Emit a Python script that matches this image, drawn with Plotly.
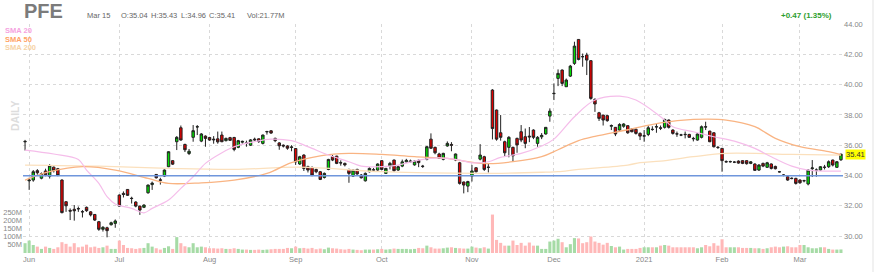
import pandas as pd
import plotly.graph_objects as go

# ---------------- data ----------------
holidays = ["2020-07-03", "2020-09-07", "2020-11-26", "2020-12-25",
            "2021-01-01", "2021-01-18", "2021-02-15"]
dates = [d.strftime("%Y-%m-%d") for d in pd.bdate_range("2020-05-29", "2021-03-15")
         if d.strftime("%Y-%m-%d") not in holidays]

opens = [36.22, 33.65, 33.70, 34.32, 33.82, 34.30, 33.95, 34.55, 34.45, 33.70,
         32.27, 31.70, 31.77, 31.82, 31.62, 31.90, 31.60, 31.43, 30.95, 30.45,
         30.55, 30.75, 30.84, 32.71, 32.82, 33.08, 32.50, 32.25, 31.98, 31.90,
         32.86, 33.40, 34.07, 33.72, 33.96, 34.58, 34.98, 36.23, 37.15, 36.05,
         35.45, 36.52, 37.20, 36.27, 36.60, 36.51, 36.40, 36.42, 36.67, 36.30,
         36.50, 36.51, 35.86, 36.20, 36.15, 36.00, 36.40, 36.42, 36.12, 36.88,
         36.95, 36.45, 36.15, 36.00, 35.95, 35.85, 35.78, 34.76, 35.35, 34.58,
         34.53, 34.40, 34.25, 33.87, 34.40, 35.24, 35.28, 34.85, 34.80, 34.40,
         33.96, 34.40, 34.03, 33.65, 34.25, 34.38, 34.36, 34.98, 34.14, 34.62,
         35.02, 34.36, 34.62, 34.90, 34.90, 34.70, 35.00, 34.62, 35.07, 36.40,
         35.86, 35.42, 35.07, 35.95, 36.05, 35.02, 34.84, 33.57, 33.30, 33.96,
         34.51, 35.08, 35.24, 34.53, 39.64, 38.32, 36.82, 36.23, 35.86, 35.86,
         36.45, 36.89, 36.56, 36.60, 37.00, 36.12, 36.55, 36.74, 37.92, 39.40,
         40.41, 40.96, 39.86, 40.56, 41.40, 42.98, 41.85, 41.95, 41.58, 39.02,
         38.14, 37.99, 37.95, 37.25, 37.18, 37.00, 37.25, 37.29, 37.07, 37.05,
         36.78, 36.60, 36.71, 37.05, 37.20, 37.15, 37.18, 37.66, 37.00, 36.75,
         36.68, 36.72, 36.71, 36.45, 36.34, 36.52, 37.22, 36.93, 36.82, 35.86,
         35.79, 34.92, 34.90, 34.88, 34.95, 34.98, 34.98, 34.80, 34.76, 34.36,
         34.80, 34.54, 34.76, 34.60, 34.25, 34.02, 33.92, 33.82, 33.81, 33.70,
         33.65, 33.44, 34.45, 34.35, 34.36, 34.55, 34.58, 35.02, 34.54, 35.04]

highs = [36.35, 33.85, 34.36, 34.42, 34.20, 34.45, 34.75, 34.60, 34.50, 33.75,
         32.30, 31.83, 32.05, 31.95, 31.72, 31.95, 31.65, 31.45, 31.00, 30.66,
         30.62, 30.95, 31.10, 32.75, 32.95, 33.10, 32.60, 32.30, 32.00, 32.10,
         33.40, 33.60, 34.10, 33.85, 34.40, 35.60, 35.00, 36.60, 37.30, 36.10,
         35.75, 37.33, 37.33, 36.80, 36.65, 36.55, 36.60, 36.90, 36.90, 36.50,
         36.55, 36.55, 36.35, 36.30, 36.30, 36.40, 36.50, 36.45, 36.70, 36.95,
         37.00, 36.50, 36.20, 36.05, 36.00, 36.00, 35.80, 35.30, 35.40, 34.65,
         34.60, 34.45, 34.30, 34.20, 35.10, 35.35, 35.30, 35.00, 34.85, 34.45,
         34.40, 34.45, 34.10, 34.20, 34.55, 34.50, 34.80, 35.00, 34.50, 34.90,
         35.05, 34.65, 35.05, 35.10, 35.05, 35.00, 35.05, 34.70, 35.95, 36.78,
         35.90, 35.50, 35.50, 36.25, 36.20, 35.45, 34.90, 33.60, 33.65, 34.70,
         34.55, 36.07, 35.30, 34.80, 39.70, 38.35, 37.99, 36.30, 36.60, 35.90,
         36.50, 37.33, 37.10, 37.20, 37.05, 36.60, 36.80, 37.20, 38.43, 40.08,
         41.00, 41.00, 40.40, 41.30, 42.83, 43.00, 42.05, 42.10, 41.60, 39.10,
         38.20, 38.00, 38.00, 37.37, 37.20, 37.45, 37.45, 37.30, 37.10, 37.10,
         36.85, 37.00, 37.30, 37.25, 37.40, 37.30, 37.75, 37.70, 37.05, 36.90,
         36.75, 36.90, 36.75, 36.55, 36.80, 37.30, 37.55, 36.95, 36.85, 35.95,
         35.82, 35.00, 34.98, 34.95, 35.00, 35.00, 35.00, 34.95, 34.80, 34.75,
         34.85, 34.90, 34.80, 34.65, 34.30, 34.08, 33.95, 33.88, 33.85, 33.75,
         33.72, 34.40, 35.02, 34.47, 34.62, 34.70, 35.00, 35.05, 34.95, 35.43]

lows = [35.65, 33.05, 33.59, 34.05, 33.75, 33.95, 33.80, 34.20, 33.95, 31.50,
        31.60, 31.06, 31.02, 31.60, 31.23, 31.60, 31.30, 31.00, 30.35, 30.30,
        29.92, 30.70, 30.55, 31.95, 32.55, 32.65, 32.15, 31.90, 31.40, 31.85,
        32.80, 33.05, 33.80, 33.40, 33.90, 34.55, 34.70, 35.68, 36.30, 35.55,
        35.35, 36.23, 36.67, 36.20, 35.90, 36.30, 36.10, 36.10, 36.20, 36.25,
        36.30, 35.60, 35.80, 36.10, 35.90, 35.95, 36.30, 36.15, 36.05, 36.70,
        36.75, 36.20, 35.70, 35.85, 35.70, 35.60, 34.70, 34.70, 34.30, 34.20,
        33.95, 34.15, 33.70, 33.80, 34.35, 34.95, 34.75, 34.65, 34.60, 33.52,
        33.90, 34.05, 33.80, 33.60, 34.20, 34.25, 34.30, 34.35, 34.10, 34.40,
        34.25, 34.30, 34.55, 34.85, 34.85, 34.65, 34.55, 34.50, 35.00, 35.75,
        35.40, 35.10, 35.00, 35.90, 35.60, 34.95, 33.40, 32.82, 32.90, 33.60,
        34.20, 35.00, 34.30, 34.20, 36.38, 36.30, 36.30, 35.24, 35.20, 34.90,
        35.50, 36.20, 35.80, 36.20, 36.40, 35.90, 36.40, 36.70, 37.55, 38.98,
        39.90, 39.90, 39.85, 40.50, 41.30, 41.60, 41.18, 40.63, 39.00, 38.20,
        37.60, 37.30, 37.55, 37.00, 36.60, 36.95, 37.15, 36.75, 36.85, 36.70,
        36.34, 36.23, 36.60, 36.95, 36.82, 37.00, 37.10, 37.10, 36.70, 36.55,
        36.60, 36.45, 36.50, 36.25, 36.30, 36.45, 37.00, 36.20, 35.85, 35.75,
        34.25, 34.85, 34.85, 34.82, 34.78, 34.75, 34.72, 34.75, 34.30, 34.30,
        34.55, 34.50, 34.40, 34.40, 34.20, 33.95, 33.65, 33.75, 33.40, 33.45,
        33.55, 33.35, 33.90, 33.92, 34.30, 34.40, 34.50, 34.60, 34.50, 34.96]

closes = [36.25, 33.70, 34.25, 34.18, 34.12, 34.05, 34.65, 34.32, 34.00, 31.55,
          32.00, 31.65, 31.67, 31.80, 31.60, 31.68, 31.40, 31.06, 30.45, 30.58,
          30.36, 30.88, 31.00, 31.98, 32.75, 32.69, 32.48, 31.98, 31.72, 32.05,
          33.37, 33.50, 33.85, 33.68, 34.36, 35.57, 34.75, 36.52, 36.34, 35.70,
          35.60, 36.96, 37.22, 36.74, 36.45, 36.34, 36.36, 36.22, 36.23, 36.45,
          36.32, 35.72, 36.30, 36.25, 36.12, 36.35, 36.35, 36.24, 36.67, 36.90,
          36.80, 36.30, 35.96, 35.95, 35.80, 35.88, 34.90, 35.24, 34.47, 34.36,
          34.03, 34.25, 33.74, 34.14, 35.06, 35.02, 34.80, 34.83, 34.70, 34.14,
          34.36, 34.10, 33.85, 34.14, 34.47, 34.36, 34.76, 34.40, 34.47, 34.80,
          34.32, 34.58, 34.90, 35.00, 34.95, 34.95, 34.85, 34.60, 35.90, 35.80,
          35.50, 35.13, 35.46, 36.12, 36.00, 35.42, 33.48, 33.37, 33.60, 34.30,
          34.25, 35.35, 34.40, 34.55, 37.10, 36.40, 36.52, 35.50, 36.52, 35.30,
          36.02, 36.34, 36.12, 36.55, 36.52, 36.52, 36.65, 37.18, 38.25, 39.42,
          40.74, 40.08, 40.30, 41.22, 42.54, 41.66, 41.84, 41.62, 39.09, 38.72,
          37.77, 37.66, 37.62, 37.30, 36.74, 37.37, 37.40, 36.82, 36.89, 36.78,
          36.60, 36.62, 37.15, 37.04, 37.22, 37.12, 37.70, 37.18, 36.78, 36.74,
          36.67, 36.70, 36.52, 36.43, 36.74, 37.22, 37.20, 36.23, 35.90, 35.85,
          34.98, 34.90, 34.92, 34.88, 34.82, 34.80, 34.78, 34.90, 34.34, 34.69,
          34.62, 34.84, 34.47, 34.45, 34.24, 34.03, 33.70, 33.80, 33.48, 33.52,
          33.66, 34.36, 34.50, 34.36, 34.58, 34.54, 34.91, 34.69, 34.91, 35.41]

volumes_m = [60, 76, 49, 39, 25, 39, 31, 25, 35, 66,
             56, 39, 60, 35, 39, 51, 35, 39, 31, 35,
             45, 25, 25, 76, 49, 31, 29, 25, 29, 31,
             60, 39, 29, 21, 31, 41, 25, 97, 60, 41,
             35, 60, 35, 39, 35, 29, 29, 27, 29, 25,
             25, 29, 25, 21, 21, 19, 19, 21, 19, 21,
             23, 25, 25, 25, 31, 29, 39, 29, 31, 27,
             31, 23, 27, 23, 33, 29, 27, 23, 21, 25,
             21, 19, 17, 21, 21, 21, 23, 25, 21, 23,
             27, 25, 25, 25, 23, 25, 31, 29, 45, 35,
             27, 27, 29, 33, 35, 31, 29, 27, 27, 39,
             33, 29, 35, 27, 235, 80, 62, 45, 45, 76,
             49, 62, 45, 64, 45, 45, 25, 25, 70, 76,
             87, 66, 35, 54, 91, 89, 60, 66, 101, 70,
             62, 51, 62, 43, 35, 39, 21, 25, 25, 25,
             31, 35, 35, 35, 35, 45, 49, 45, 35, 35,
             35, 35, 35, 35, 29, 35, 49, 41, 60, 45,
             84, 35, 35, 35, 35, 31, 31, 31, 29, 29,
             25, 29, 35, 39, 35, 39, 41, 35, 35, 49,
             49, 35, 29, 29, 35, 35, 25, 21, 21, 21.77]

sma20_idx = [0, 7, 13, 15, 18, 20, 22, 26, 29, 31, 35, 38, 41, 44, 48, 51, 56, 60, 65, 67,
             70, 74, 79, 82, 87, 91, 96, 101, 106, 109, 113, 116, 121, 126, 129, 134, 139,
             145, 149, 155, 158, 163, 168, 173, 178, 182, 187, 191, 196, 199]
sma20_val = [35.68, 35.42, 35.06, 34.36, 33.48, 32.60, 32.12, 31.83, 31.54, 31.83, 32.38,
             33.15, 33.92, 34.80, 35.50, 35.90, 36.23, 36.40, 36.30, 36.12, 35.79, 35.35,
             34.91, 34.62, 34.58, 34.69, 35.02, 35.17, 35.02, 34.84, 34.91, 35.20, 35.46,
             35.95, 36.40, 37.88, 38.98, 39.24, 38.98, 37.88, 37.22, 36.89, 36.56, 36.27,
             35.79, 35.24, 34.62, 34.36, 34.29, 34.29]

sma50_idx = [0, 6, 14, 22, 30, 35, 43, 51, 59, 65, 72, 79, 87, 95, 103, 108, 113, 119,
             126, 130, 135, 139, 147, 155, 163, 171, 178, 183, 189, 196, 199]
sma50_val = [33.70, 34.25, 34.58, 34.36, 33.81, 33.48, 33.52, 33.70, 34.14, 34.85, 35.30,
             35.46, 35.39, 35.24, 35.13, 34.91, 34.78, 34.91, 35.24, 35.70, 36.30, 36.58,
             37.02, 37.48, 37.70, 37.66, 37.22, 36.45, 35.90, 35.57, 35.38]

sma200_idx = [0, 18, 35, 51, 67, 87, 111, 127, 130, 135, 147, 150, 155, 163, 171, 187, 199]
sma200_val = [34.69, 34.62, 34.47, 34.40, 34.55, 34.25, 34.14, 34.22, 34.25, 34.40, 34.69,
              34.85, 34.95, 35.24, 35.46, 35.39, 35.35]

support_level = 33.98

month_ticks = ["2020-06-01", "2020-07-01", "2020-08-03", "2020-09-01", "2020-10-01",
               "2020-11-02", "2020-12-01", "2021-01-04", "2021-02-01", "2021-03-01"]
month_labels = ["Jun", "Jul", "Aug", "Sep", "Oct", "Nov", "Dec", "2021", "Feb", "Mar"]

price_ticks = [30, 32, 34, 36, 38, 40, 42, 44]
vol_ticks = [50, 100, 150, 200, 250]

ticker = "PFE"
last_date = "Mar 15"
ohlc_text = ["O:35.04", "H:35.43", "L:34.96", "C:35.41"]
vol_text = "Vol:21.77M"
change_text = "+0.47 (1.35%)"

# ---------------- layout geometry (pixels) ----------------
W, H = 880, 272
L, R, T, B = 23, 843, 24, 253
FONT = "Liberation Sans, Arial, sans-serif"


def px(x):
    return (x - L) / (R - L)


def py(y):
    return (B - y) / (B - T)


vol_colors = ["#a6dba6" if c >= o else "#ffb8b8" for o, c in zip(opens, closes)]

fig = go.Figure()

fig.add_trace(go.Bar(x=dates, y=volumes_m, marker=dict(color=vol_colors, line=dict(width=0)),
                     yaxis="y2", showlegend=False, hoverinfo="skip"))

fig.add_trace(go.Scatter(x=[dates[i] for i in sma200_idx], y=sma200_val, mode="lines",
                         line=dict(color="#fbe0bd", width=1.3, shape="spline"), showlegend=False))
fig.add_trace(go.Scatter(x=[dates[i] for i in sma50_idx], y=sma50_val, mode="lines",
                         line=dict(color="#f9b483", width=1.3, shape="spline"), showlegend=False))
fig.add_trace(go.Scatter(x=[dates[i] for i in sma20_idx], y=sma20_val, mode="lines",
                         line=dict(color="#f5bdea", width=1.2, shape="spline"), showlegend=False))

fig.add_trace(go.Candlestick(
    x=dates, open=opens, high=highs, low=lows, close=closes,
    increasing=dict(fillcolor="#00dd00", line=dict(color="#222222", width=1)),
    decreasing=dict(fillcolor="#e00000", line=dict(color="#222222", width=1)),
    whiskerwidth=0, showlegend=False))

fig.add_shape(type="line", xref="paper", yref="y", x0=0, x1=1, y0=support_level, y1=support_level,
              line=dict(color="#6f96dc", width=1.6))
fig.add_shape(type="line", xref="paper", yref="paper", x0=px(873), x1=px(873), y0=py(272), y1=py(0),
              line=dict(color="#e3e3e3", width=1))

ann = []
ann.append(dict(text="<b>%s</b>" % ticker, x=px(22), y=py(11), xanchor="left", yanchor="middle",
                font=dict(size=20, color="#7b7b7b", family=FONT)))
ann.append(dict(text=last_date, x=px(85), y=py(16), xanchor="left", yanchor="middle",
                font=dict(size=7.5, color="#666666", family=FONT)))
for t, xx in zip(ohlc_text, [119, 149, 179, 207]):
    ann.append(dict(text=t, x=px(xx), y=py(16), xanchor="left", yanchor="middle",
                    font=dict(size=7.5, color="#666666", family=FONT)))
ann.append(dict(text=vol_text, x=px(245), y=py(16), xanchor="left", yanchor="middle",
                font=dict(size=7.5, color="#666666", family=FONT)))
ann.append(dict(text="<b>%s</b>" % change_text, x=px(834), y=py(16), xanchor="right", yanchor="middle",
                font=dict(size=8, color="#2e9e2e", family=FONT)))
for t, c, yy in [("SMA 20", "#f5a3df", 31), ("SMA 50", "#ffa366", 39), ("SMA 200", "#f6d3a6", 47)]:
    ann.append(dict(text="<b>%s</b>" % t, x=px(3), y=py(yy), xanchor="left", yanchor="middle",
                    font=dict(size=7.5, color=c, family=FONT)))
ann.append(dict(text="<b>DAILY</b>", x=px(15), y=py(116), xanchor="center", yanchor="middle",
                textangle=-90, font=dict(size=10.5, color="#dddddd", family=FONT)))
ann.append(dict(text="%.2f" % closes[-1], x=1, xshift=2, y=closes[-1], yref="y", xanchor="left",
                yanchor="middle", bgcolor="#ffff00", borderpad=0,
                font=dict(size=7.5, color="#333333", family=FONT)))
for a in ann:
    a.setdefault("xref", "paper")
    a.setdefault("yref", "paper")
    a["showarrow"] = False

fig.update_layout(
    width=W, height=H,
    margin=dict(l=L, r=W - R, t=T, b=H - B, pad=0, autoexpand=False),
    paper_bgcolor="white", plot_bgcolor="white",
    font=dict(family=FONT, size=7.5, color="#888888"),
    showlegend=False, bargap=0.25, boxgap=0.15,
    annotations=ann,
    xaxis=dict(type="category", range=[-0.5, len(dates) - 0.5], rangeslider=dict(visible=False),
               tickmode="array", tickvals=month_ticks, ticktext=month_labels, automargin=False,
               showgrid=True, gridcolor="#d9d9d9", griddash="dot", gridwidth=1,
               ticks="", showline=False, zeroline=False,
               tickfont=dict(size=7.5, color="#888888", family=FONT)),
    yaxis=dict(side="right", range=[28.885, 44.0], tickmode="array", tickvals=price_ticks,
               ticktext=["%.2f" % v for v in price_ticks], automargin=False,
               showgrid=True, gridcolor="#d9d9d9", griddash="dot", gridwidth=1,
               zeroline=False, ticks="", showline=False,
               tickfont=dict(size=7.5, color="#888888", family=FONT)),
    yaxis2=dict(overlaying="y", side="left", range=[0, 1400], tickmode="array", tickvals=vol_ticks,
                ticktext=["%dM" % v for v in vol_ticks], showgrid=False, zeroline=False,
                ticks="", showline=False, automargin=False,
                tickfont=dict(size=7.5, color="#888888", family=FONT)),
)

fig.write_html("out.html")
